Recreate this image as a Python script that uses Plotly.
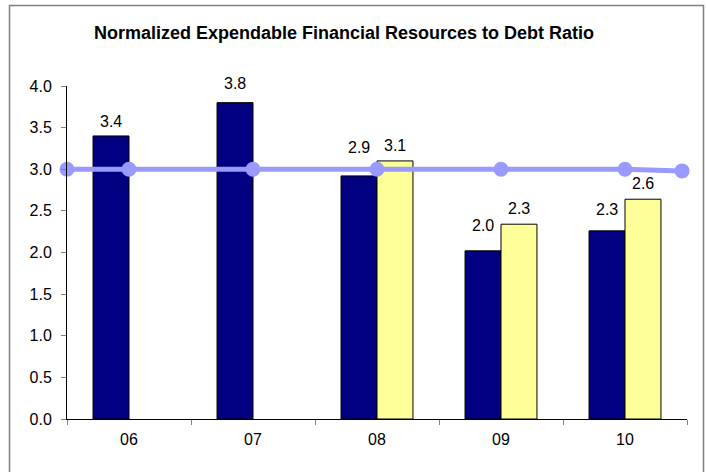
import plotly.graph_objects as go

# Fiscal years on the category axis
years = ["06", "07", "08", "09", "10"]

# Ratio per year (actual and second series; first two years have no second value)
ratio_actual = [3.4, 3.8, 2.92, 2.02, 2.26]
ratio_second = [None, None, 3.1, 2.34, 2.64]

# Benchmark line: positions along the category axis and its level
benchmark_x = [-0.5, 0, 1, 2, 3, 4, 4.46]
benchmark_y = [3.0, 3.0, 3.0, 3.0, 3.0, 3.0, 2.98]

y_ticks = [0.0, 0.5, 1.0, 1.5, 2.0, 2.5, 3.0, 3.5, 4.0]

NAVY = "#000080"
PALE_YELLOW = "#FFFF99"
PERIWINKLE = "#9999FF"
FONT = "Liberation Sans, Arial, sans-serif"
LABEL_SIZE = 16

fig = go.Figure()

fig.add_trace(go.Bar(
    x=years, y=ratio_actual, name="Actual",
    marker=dict(color=NAVY, line=dict(color="black", width=1)),
))
fig.add_trace(go.Bar(
    x=years, y=ratio_second, name="Second",
    marker=dict(color=PALE_YELLOW, line=dict(color="black", width=1)),
))
fig.add_trace(go.Scatter(
    x=benchmark_x, y=benchmark_y, xaxis="x2", mode="lines+markers",
    line=dict(color=PERIWINKLE, width=5),
    marker=dict(color=PERIWINKLE, size=15),
    cliponaxis=False, name="Benchmark",
))

# Value labels above each bar (pixel lift per label keeps them clear of the line)
lift_actual = [14, 19, 28, 25, 21]
lift_second = [0, 0, 15, 16, 16]
annotations = []
for i in range(len(years)):
    for vals, lifts, shift in ((ratio_actual, lift_actual, -18), (ratio_second, lift_second, 18)):
        v = vals[i]
        if v is None:
            continue
        annotations.append(dict(
            x=i, y=v, xref="x2", yref="y", text=f"{v:.1f}",
            showarrow=False, xshift=shift, yshift=lifts[i],
            xanchor="center", yanchor="middle",
            font=dict(family=FONT, size=LABEL_SIZE, color="black"),
        ))

fig.update_layout(
    width=706, height=472,
    margin=dict(l=67, r=19, t=86, b=53),
    paper_bgcolor="white", plot_bgcolor="white",
    showlegend=False,
    barmode="group", bargap=0.42, bargroupgap=0,
    font=dict(family=FONT, size=LABEL_SIZE, color="black"),
    title=dict(
        text="<b>Normalized Expendable Financial Resources to Debt Ratio</b>",
        x=344 / 706, xanchor="center", y=1 - 33 / 472, yanchor="middle",
        font=dict(family=FONT, size=18, color="black"),
    ),
    xaxis=dict(
        type="category", range=[-0.5, 4.5],
        showline=True, linecolor="black", linewidth=1,
        ticks="outside", ticklen=5, tickcolor="#808080", tickson="boundaries",
        showgrid=False, zeroline=False, ticklabelstandoff=6,
    ),
    xaxis2=dict(overlaying="x", range=[-0.5, 4.5], visible=False),
    yaxis=dict(
        range=[0, 4], tickvals=y_ticks, tickformat=".1f",
        showline=True, linecolor="black", linewidth=1,
        ticks="outside", ticklen=5, tickcolor="#808080",
        showgrid=False, zeroline=False, ticklabelstandoff=6,
    ),
    annotations=annotations,
    shapes=[dict(
        type="rect", xref="paper", yref="paper",
        x0=(9.5 - 67) / 620, x1=(703.5 - 67) / 620,
        y0=-0.25, y1=(419 - 5.5) / 333,
        line=dict(color="#808080", width=1.5), layer="below",
    )],
)

fig.write_html("out.html")
